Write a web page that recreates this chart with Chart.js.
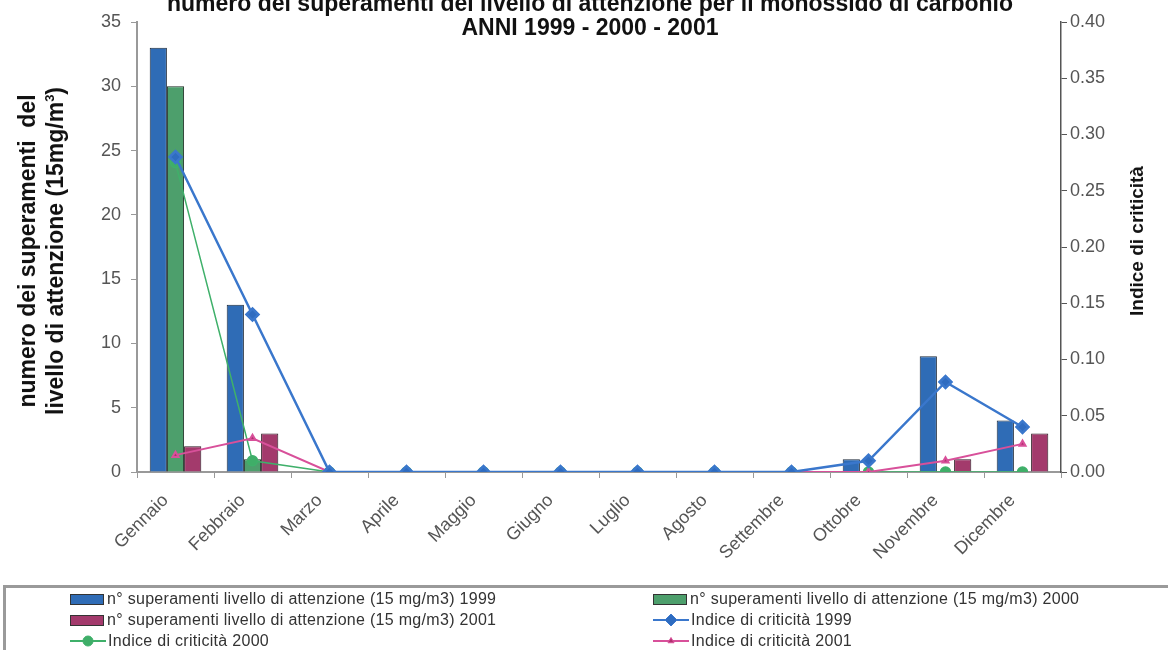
<!DOCTYPE html>
<html>
<head>
<meta charset="utf-8">
<script src="https://cdn.jsdelivr.net/npm/chart.js@4.4.1/dist/chart.umd.min.js"></script>
<style>
  html, body { margin:0; padding:0; background:#fff; width:1168px; height:650px; overflow:hidden; font-family:"Liberation Sans", Arial, sans-serif; }
  #wrap { position:relative; width:1168px; height:650px; }
  #c { position:absolute; left:0; top:0; }
  #title { position:absolute; left:40px; width:1100px; top:-9px; text-align:center; font-weight:bold; font-size:23px; line-height:24px; color:#111; white-space:nowrap; }
  .vt { position:absolute; transform-origin:center center; transform:translate(-50%,-50%) rotate(-90deg); white-space:nowrap; text-align:center; font-weight:bold; color:#111; }
  #ytitle { left:41px; top:251px; font-size:23px; line-height:28px; }
  #y1title { left:1137px; top:241px; font-size:19px; line-height:22px; }
  #legend { position:absolute; left:3px; top:585px; width:1180px; height:80px; border:3px solid #9a9a9a; box-sizing:border-box; }
  .li { position:absolute; height:20px; display:flex; align-items:center; font-size:16px; letter-spacing:0.3px; color:#333; white-space:nowrap; }
  .sw { width:34px; height:11px; margin-right:3px; box-sizing:border-box; border:1px solid #333; }
</style>
</head>
<body>
<div id="wrap">
  <canvas id="c" width="1168" height="586"></canvas>
  <div id="title">numero dei superamenti del livello di attenzione per il monossido di carbonio<br>ANNI 1999 - 2000 - 2001</div>
  <div class="vt" id="ytitle">numero dei superamenti&nbsp; del<br>livello di attenzione (15mg/m<sup style="font-size:13px;line-height:0">3</sup>)</div>
  <div class="vt" id="y1title">Indice di criticità</div>
  <div id="legend"></div>
</div>
<script>
const months = ['Gennaio','Febbraio','Marzo','Aprile','Maggio','Giugno','Luglio','Agosto','Settembre','Ottobre','Novembre','Dicembre'];

const sup1999 = [33, 13, 0, 0, 0, 0, 0, 0, 0, 1, 9, 4];
const sup2000 = [30, 1, 0, 0, 0, 0, 0, 0, 0, 0, 0, 0];
const sup2001 = [2, 3, 0, 0, 0, 0, 0, 0, 0, 0, 1, 3];

const idx1999 = [0.28, 0.14, 0, 0, 0, 0, 0, 0, 0, 0.01, 0.08, 0.04];
const idx2000 = [0.275, 0.01, 0, 0, 0, 0, 0, 0, 0, 0, 0, 0];
const idx2001 = [0.015, 0.03, 0, 0, 0, 0, 0, 0, 0, 0, 0.01, 0.025];

const leftTicks = [0, 5, 10, 15, 20, 25, 30, 35];
const rightTicks = [0, 0.05, 0.10, 0.15, 0.20, 0.25, 0.30, 0.35, 0.40];

const labels = {
  b1999: 'n° superamenti livello di attenzione (15 mg/m3) 1999',
  b2000: 'n° superamenti livello di attenzione (15 mg/m3) 2000',
  b2001: 'n° superamenti livello di attenzione (15 mg/m3) 2001',
  i1999: 'Indice di criticità 1999',
  i2000: 'Indice di criticità 2000',
  i2001: 'Indice di criticità 2001'
};

const tickFont = { family: '"Liberation Sans", Arial, sans-serif', size: 18 };
const tickColor = '#555';

const chart = new Chart(document.getElementById('c'), {
  data: {
    labels: months,
    datasets: [
      { type:'bar', label: labels.b1999, data: sup1999, yAxisID:'y', backgroundColor:'#2f6cb6', borderColor:'#1d2a3a', borderWidth:1, order:2 },
      { type:'bar', label: labels.b2000, data: sup2000, yAxisID:'y', backgroundColor:'#4d9f6c', borderColor:'#1d2a22', borderWidth:1, order:2 },
      { type:'bar', label: labels.b2001, data: sup2001, yAxisID:'y', backgroundColor:'#a33a6c', borderColor:'#2a1a22', borderWidth:1, order:2 },
      { type:'line', label: labels.i1999, data: idx1999, yAxisID:'y1', borderColor:'#3a77cc', backgroundColor:'#2f6cc0', borderWidth:2.5, pointStyle:'rectRot', pointRadius:6, tension:0, order:0 },
      { type:'line', label: labels.i2000, data: idx2000, yAxisID:'y1', borderColor:'#3fb06a', backgroundColor:'#3fae68', borderWidth:1.5, pointStyle:'circle', pointRadius:5, tension:0, order:1 },
      { type:'line', label: labels.i2001, data: idx2001, yAxisID:'y1', borderColor:'#d8509a', backgroundColor:'#b0306e', borderWidth:2, pointStyle:'triangle', pointRadius:3.5, tension:0, order:0 }
    ]
  },
  options: {
    responsive:false,
    animation:false,
    events:[],
    layout:{ padding:{ top:22, left:0, right:0, bottom:0 } },
    datasets:{ bar:{ categoryPercentage:0.67, barPercentage:1.0 } },
    plugins:{ legend:{ display:false }, title:{ display:false }, tooltip:{ enabled:false } },
    scales:{
      x:{
        grid:{ display:true, drawOnChartArea:false, color:'#999', tickLength:6, offset:true },
        border:{ color:'#999', width:2 },
        ticks:{ font:tickFont, color:tickColor, maxRotation:45, minRotation:45, padding:12, labelOffset:-10, autoSkip:false },
        afterFit(s){ s.height = 114; }
      },
      y:{
        position:'left', min:0, max:35,
        afterBuildTicks(s){ s.ticks = leftTicks.map(v => ({ value:v })); },
        grid:{ display:true, drawOnChartArea:false, color:'#999', tickLength:6 },
        border:{ color:'#999', width:2 },
        ticks:{ font:tickFont, color:tickColor, padding:10 },
        afterFit(s){ s.width = 137; }
      },
      y1:{
        position:'right', min:0, max:0.40,
        afterBuildTicks(s){ s.ticks = rightTicks.map(v => ({ value:v })); },
        grid:{ display:true, drawOnChartArea:false, color:'#555', tickLength:6 },
        border:{ color:'#555', width:1.5 },
        ticks:{ font:tickFont, color:tickColor, padding:3, callback:(v)=>Number(v).toFixed(2) },
        afterFit(s){ s.width = 107; }
      }
    }
  }
});

// HTML legend built from the chart's datasets (2 columns, row-major)
(function(){
  const lg = document.getElementById('legend');
  const colX = [64, 647];
  const rowY = [1, 22, 43];
  chart.data.datasets.forEach((ds, i) => {
    const item = document.createElement('div');
    item.className = 'li';
    item.style.left = colX[i % 2] + 'px';
    item.style.top = rowY[Math.floor(i / 2)] + 'px';
    let sw;
    if (ds.type === 'bar') {
      sw = document.createElement('div');
      sw.className = 'sw';
      sw.style.background = ds.backgroundColor;
    } else {
      sw = document.createElement('canvas');
      sw.width = 36; sw.height = 14;
      sw.style.marginRight = '2px';
      const ctx = sw.getContext('2d');
      ctx.strokeStyle = ds.borderColor; ctx.lineWidth = 2;
      ctx.beginPath(); ctx.moveTo(0,7); ctx.lineTo(36,7); ctx.stroke();
      ctx.fillStyle = ds.backgroundColor; ctx.strokeStyle = ds.borderColor; ctx.lineWidth = 1;
      Chart.helpers.drawPoint(ctx, { pointStyle: ds.pointStyle, radius: ds.pointRadius, rotation:0, borderWidth:1 }, 18, 7);
    }
    const tx = document.createElement('span');
    tx.textContent = ds.label;
    item.appendChild(sw); item.appendChild(tx);
    lg.appendChild(item);
  });
})();
</script>
</body>
</html>
